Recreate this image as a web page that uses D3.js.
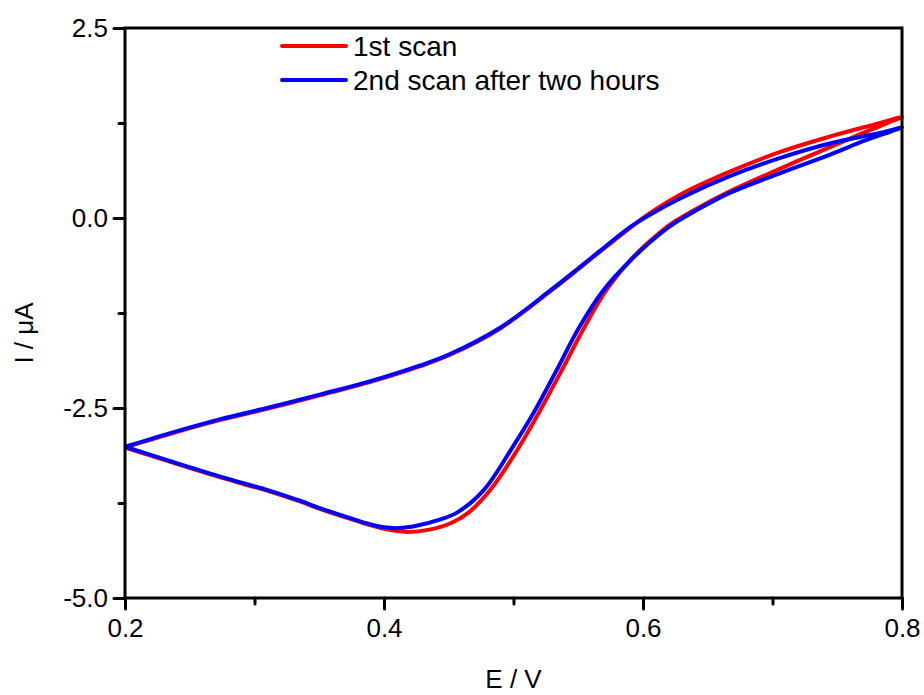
<!DOCTYPE html>
<html>
<head>
<meta charset="utf-8">
<script src="https://cdn.jsdelivr.net/npm/d3@7"></script>
<style>
  body { margin: 0; background: #fff; }
  svg text { font-family: "Liberation Sans", Arial, sans-serif; fill: #000; }
</style>
</head>
<body>
<svg id="chart" width="924" height="695"></svg>
<script>
// scan 1: forward (0.2 -> 0.8) then reverse (0.8 -> 0.2)
const scan1E = [0.2, 0.235, 0.273, 0.312, 0.351, 0.389, 0.428, 0.451, 0.49, 0.528, 0.551, 0.567, 0.59, 0.605, 0.629, 0.667, 0.706, 0.744, 0.783, 0.8,
  0.783, 0.77, 0.744, 0.706, 0.667, 0.64, 0.625, 0.613, 0.592, 0.572, 0.554, 0.538, 0.52, 0.503, 0.482, 0.465, 0.451, 0.435, 0.418, 0.4, 0.389, 0.374, 0.351, 0.335, 0.312, 0.273, 0.235, 0.2];
const scan1I = [-3.02, -2.84, -2.66, -2.5, -2.33, -2.16, -1.95, -1.8, -1.45, -0.97, -0.66, -0.44, -0.13, 0.06, 0.31, 0.61, 0.87, 1.07, 1.25, 1.33,
  1.21, 1.12, 0.93, 0.65, 0.35, 0.11, -0.04, -0.19, -0.52, -0.94, -1.46, -1.98, -2.55, -3.05, -3.58, -3.88, -4.02, -4.1, -4.13, -4.09, -4.04, -3.96, -3.83, -3.73, -3.6, -3.41, -3.21, -3.02];

// scan 2: after two hours
const scan2E = [0.2, 0.235, 0.273, 0.312, 0.351, 0.389, 0.428, 0.451, 0.49, 0.528, 0.551, 0.567, 0.59, 0.605, 0.629, 0.667, 0.706, 0.744, 0.783, 0.8,
  0.783, 0.77, 0.744, 0.706, 0.667, 0.64, 0.625, 0.613, 0.592, 0.569, 0.55, 0.534, 0.516, 0.498, 0.477, 0.457, 0.443, 0.425, 0.412, 0.4, 0.389, 0.374, 0.351, 0.335, 0.312, 0.273, 0.235, 0.2];
const scan2I = [-3.01, -2.83, -2.65, -2.49, -2.32, -2.15, -1.94, -1.79, -1.44, -0.96, -0.65, -0.43, -0.12, 0.04, 0.26, 0.55, 0.79, 0.98, 1.12, 1.19,
  1.09, 1.01, 0.83, 0.59, 0.33, 0.09, -0.06, -0.21, -0.53, -0.96, -1.46, -1.98, -2.55, -3.05, -3.58, -3.87, -3.97, -4.05, -4.08, -4.07, -4.03, -3.95, -3.82, -3.72, -3.59, -3.4, -3.2, -3.01];

const xTicks = [0.2, 0.4, 0.6, 0.8];
const xMinor = [0.3, 0.5, 0.7];
const yTicks = [2.5, 0.0, -2.5, -5.0];
const yMinor = [1.25, -1.25, -3.75];
const legendLabels = ["1st scan", "2nd scan after two hours"];
const colors = ["#ff0000", "#0000ff"];

const width = 924, height = 695;
const margin = { top: 28, right: 22, bottom: 97, left: 125 };

const svg = d3.select("#chart");

const x = d3.scaleLinear().domain([0.2, 0.8]).range([margin.left, width - margin.right]);
const y = d3.scaleLinear().domain([-5, 2.5]).range([height - margin.bottom, margin.top]);

const scans = [
  d3.zip(scan1E, scan1I),
  d3.zip(scan2E, scan2I),
];

const line = d3.line()
  .x(d => x(d[0]))
  .y(d => y(d[1]))
  .curve(d3.curveCatmullRom.alpha(0.5));

svg.append("g")
  .selectAll("path")
  .data(scans)
  .join("path")
  .attr("d", line)
  .attr("fill", "none")
  .attr("stroke", (d, i) => colors[i])
  .attr("stroke-width", 4)
  .attr("stroke-linejoin", "round");

// frame
svg.append("rect")
  .attr("x", x(0.2))
  .attr("y", y(2.5))
  .attr("width", x(0.8) - x(0.2))
  .attr("height", y(-5) - y(2.5))
  .attr("fill", "none")
  .attr("stroke", "#000")
  .attr("stroke-width", 3);

function styleAxis(g) {
  g.select(".domain").remove();
  g.selectAll(".tick line").attr("stroke", "#000").attr("stroke-width", 3).attr("stroke-linecap", "round");
  g.selectAll(".tick text").attr("font-size", 26);
}

svg.append("g")
  .attr("transform", `translate(0,${y(-5)})`)
  .call(d3.axisBottom(x).tickValues(xTicks).tickSize(11).tickPadding(10).tickFormat(d => d.toFixed(1)))
  .call(styleAxis);

svg.append("g")
  .attr("transform", `translate(0,${y(-5)})`)
  .call(d3.axisBottom(x).tickValues(xMinor).tickSize(6).tickFormat(""))
  .call(styleAxis);

svg.append("g")
  .attr("transform", `translate(${x(0.2)},0)`)
  .call(d3.axisLeft(y).tickValues(yTicks).tickSize(11).tickPadding(6).tickFormat(d => d.toFixed(1)))
  .call(styleAxis);

svg.append("g")
  .attr("transform", `translate(${x(0.2)},0)`)
  .call(d3.axisLeft(y).tickValues(yMinor).tickSize(6).tickFormat(""))
  .call(styleAxis);

// axis titles
svg.append("text")
  .attr("x", (x(0.2) + x(0.8)) / 2)
  .attr("y", 688)
  .attr("text-anchor", "middle")
  .attr("font-size", 26)
  .text("E / V");

svg.append("text")
  .attr("transform", "translate(33,333) rotate(-90)")
  .attr("text-anchor", "middle")
  .attr("font-size", 26)
  .text("I / \u03bcA");

// legend
const legend = svg.append("g")
  .selectAll("g")
  .data(legendLabels)
  .join("g")
  .attr("transform", (d, i) => `translate(282,${46 + i * 34})`);

legend.append("line")
  .attr("x1", 0).attr("x2", 64)
  .attr("stroke", (d, i) => colors[i])
  .attr("stroke-width", 4)
  .attr("stroke-linecap", "round");

legend.append("text")
  .attr("x", 71)
  .attr("dy", "0.36em")
  .attr("font-size", 28)
  .text(d => d);
</script>
</body>
</html>
